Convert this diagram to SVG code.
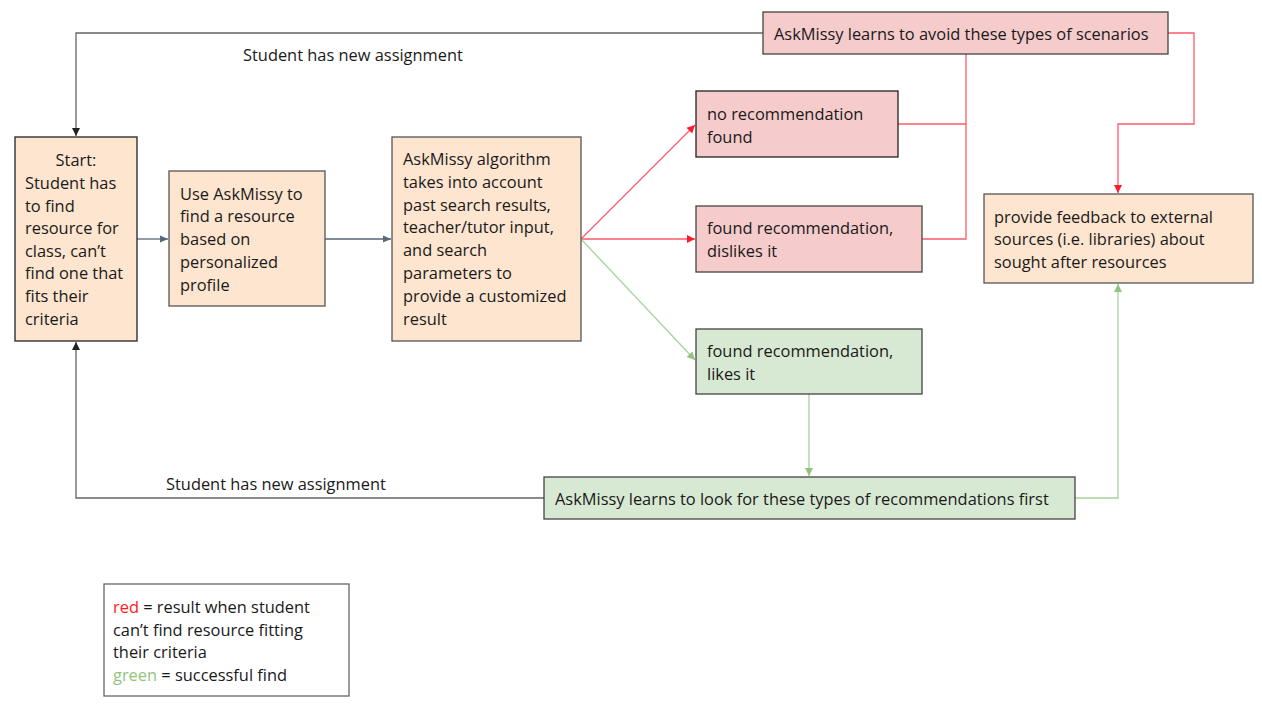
<svg xmlns="http://www.w3.org/2000/svg" width="1262" height="710" viewBox="0 0 1262 710">
<style>
text{font-family:"Open Sans","Liberation Sans",sans-serif;font-size:16.4px;fill:#1a1a1a}
.peach{fill:#fde5cf;stroke:#555;stroke-width:1.3}
.pink{fill:#f5cbcc;stroke:#222;stroke-width:1.3}
.green{fill:#d8e9d3;stroke:#444;stroke-width:1.3}
.gray{fill:none;stroke:#666;stroke-width:1.3}
.slate{fill:none;stroke:#56687a;stroke-width:1.3}
.red{fill:none;stroke:#ff5a6a;stroke-width:1.3}
.grn{fill:none;stroke:#a6d39b;stroke-width:1.3}
</style>
<defs>
<marker id="ab" markerWidth="10" markerHeight="10" refX="9" refY="5" orient="auto" markerUnits="userSpaceOnUse"><path d="M1,1 L9,5 L1,9 z" fill="#222"/></marker>
<marker id="as" markerWidth="10" markerHeight="10" refX="9" refY="5" orient="auto" markerUnits="userSpaceOnUse"><path d="M1,1.5 L9,5 L1,8.5 z" fill="#56687a"/></marker>
<marker id="ar" markerWidth="10" markerHeight="10" refX="9" refY="5" orient="auto" markerUnits="userSpaceOnUse"><path d="M1,1 L9,5 L1,9 z" fill="#ff1a2e"/></marker>
<marker id="ag" markerWidth="10" markerHeight="10" refX="9" refY="5" orient="auto" markerUnits="userSpaceOnUse"><path d="M1,1 L9,5 L1,9 z" fill="#93c47d"/></marker>
</defs>
<rect width="1262" height="710" fill="#fff"/>
<g id="connectors">
<polyline class="gray" points="763,33 76,33 76,136" marker-end="url(#ab)"/>
<polyline class="gray" points="544,498 76,498 76,342" marker-end="url(#ab)"/>
<line class="slate" x1="137" y1="239" x2="168" y2="239" marker-end="url(#as)"/>
<line class="slate" x1="325" y1="239" x2="391" y2="239" marker-end="url(#as)"/>
<line class="red" x1="581" y1="239" x2="695" y2="125" marker-end="url(#ar)"/>
<line class="red" x1="581" y1="239" x2="695" y2="239" marker-end="url(#ar)"/>
<line class="grn" x1="581" y1="239" x2="695" y2="360" marker-end="url(#ag)"/>
<polyline class="red" points="898,124 966,124 966,54"/>
<polyline class="red" points="922,239 966,239 966,124"/>
<polyline class="red" points="1168,33 1194,33 1194,124 1118,124 1118,193" marker-end="url(#ar)"/>
<line class="grn" x1="809" y1="394" x2="809" y2="476" marker-end="url(#ag)"/>
<polyline class="grn" points="1075,498 1118,498 1118,284" marker-end="url(#ag)"/>
<text x="243" y="61">Student has new assignment</text>
<text x="166" y="490">Student has new assignment</text>
</g>
<g id="start">
<rect class="peach" x="15" y="137" width="122" height="204" style="stroke:#222"/>
<text x="76" y="166" text-anchor="middle">Start:</text>
<text x="25" y="189">Student has</text>
<text x="25" y="212">to find</text>
<text x="25" y="234">resource for</text>
<text x="25" y="257">class, can’t</text>
<text x="25" y="279">find one that</text>
<text x="25" y="302">fits their</text>
<text x="25" y="325">criteria</text>
</g>
<g id="use">
<rect class="peach" x="169" y="171" width="156" height="135"/>
<text x="180" y="200">Use AskMissy to</text>
<text x="180" y="222">find a resource</text>
<text x="180" y="245">based on</text>
<text x="180" y="268">personalized</text>
<text x="180" y="291">profile</text>
</g>
<g id="algorithm">
<rect class="peach" x="392" y="137" width="189" height="204"/>
<text x="403" y="165">AskMissy algorithm</text>
<text x="403" y="188">takes into account</text>
<text x="403" y="211">past search results,</text>
<text x="403" y="233">teacher/tutor input,</text>
<text x="403" y="256">and search</text>
<text x="403" y="279">parameters to</text>
<text x="403" y="302">provide a customized</text>
<text x="403" y="325">result</text>
</g>
<g id="norec">
<rect class="pink" x="696" y="91" width="202" height="66"/>
<text x="707" y="120">no recommendation</text>
<text x="707" y="143">found</text>
</g>
<g id="dislikes">
<rect class="pink" x="696" y="206" width="226" height="66" style="stroke:#444"/>
<text x="707" y="234">found recommendation,</text>
<text x="707" y="257">dislikes it</text>
</g>
<g id="likes">
<rect class="green" x="696" y="329" width="226" height="65"/>
<text x="707" y="357">found recommendation,</text>
<text x="707" y="380">likes it</text>
</g>
<g id="avoid">
<rect class="pink" x="763" y="12" width="405" height="42" style="stroke:#444"/>
<text x="774" y="40">AskMissy learns to avoid these types of scenarios</text>
</g>
<g id="feedback">
<rect class="peach" x="984" y="194" width="269" height="89"/>
<text x="994" y="223">provide feedback to external</text>
<text x="994" y="245">sources (i.e. libraries) about</text>
<text x="994" y="268">sought after resources</text>
</g>
<g id="lookfor">
<rect class="green" x="544" y="477" width="531" height="42"/>
<text x="555" y="505">AskMissy learns to look for these types of recommendations first</text>
</g>
<g id="legend">
<rect x="104" y="584" width="245" height="112" fill="#fff" stroke="#666" stroke-width="1.3"/>
<text x="113" y="613"><tspan style="fill:#ff1a1a">red</tspan> = result when student</text>
<text x="113" y="636">can’t find resource fitting</text>
<text x="113" y="658">their criteria</text>
<text x="113" y="681"><tspan style="fill:#93c47d">green</tspan> = successful find</text>
</g>
</svg>
